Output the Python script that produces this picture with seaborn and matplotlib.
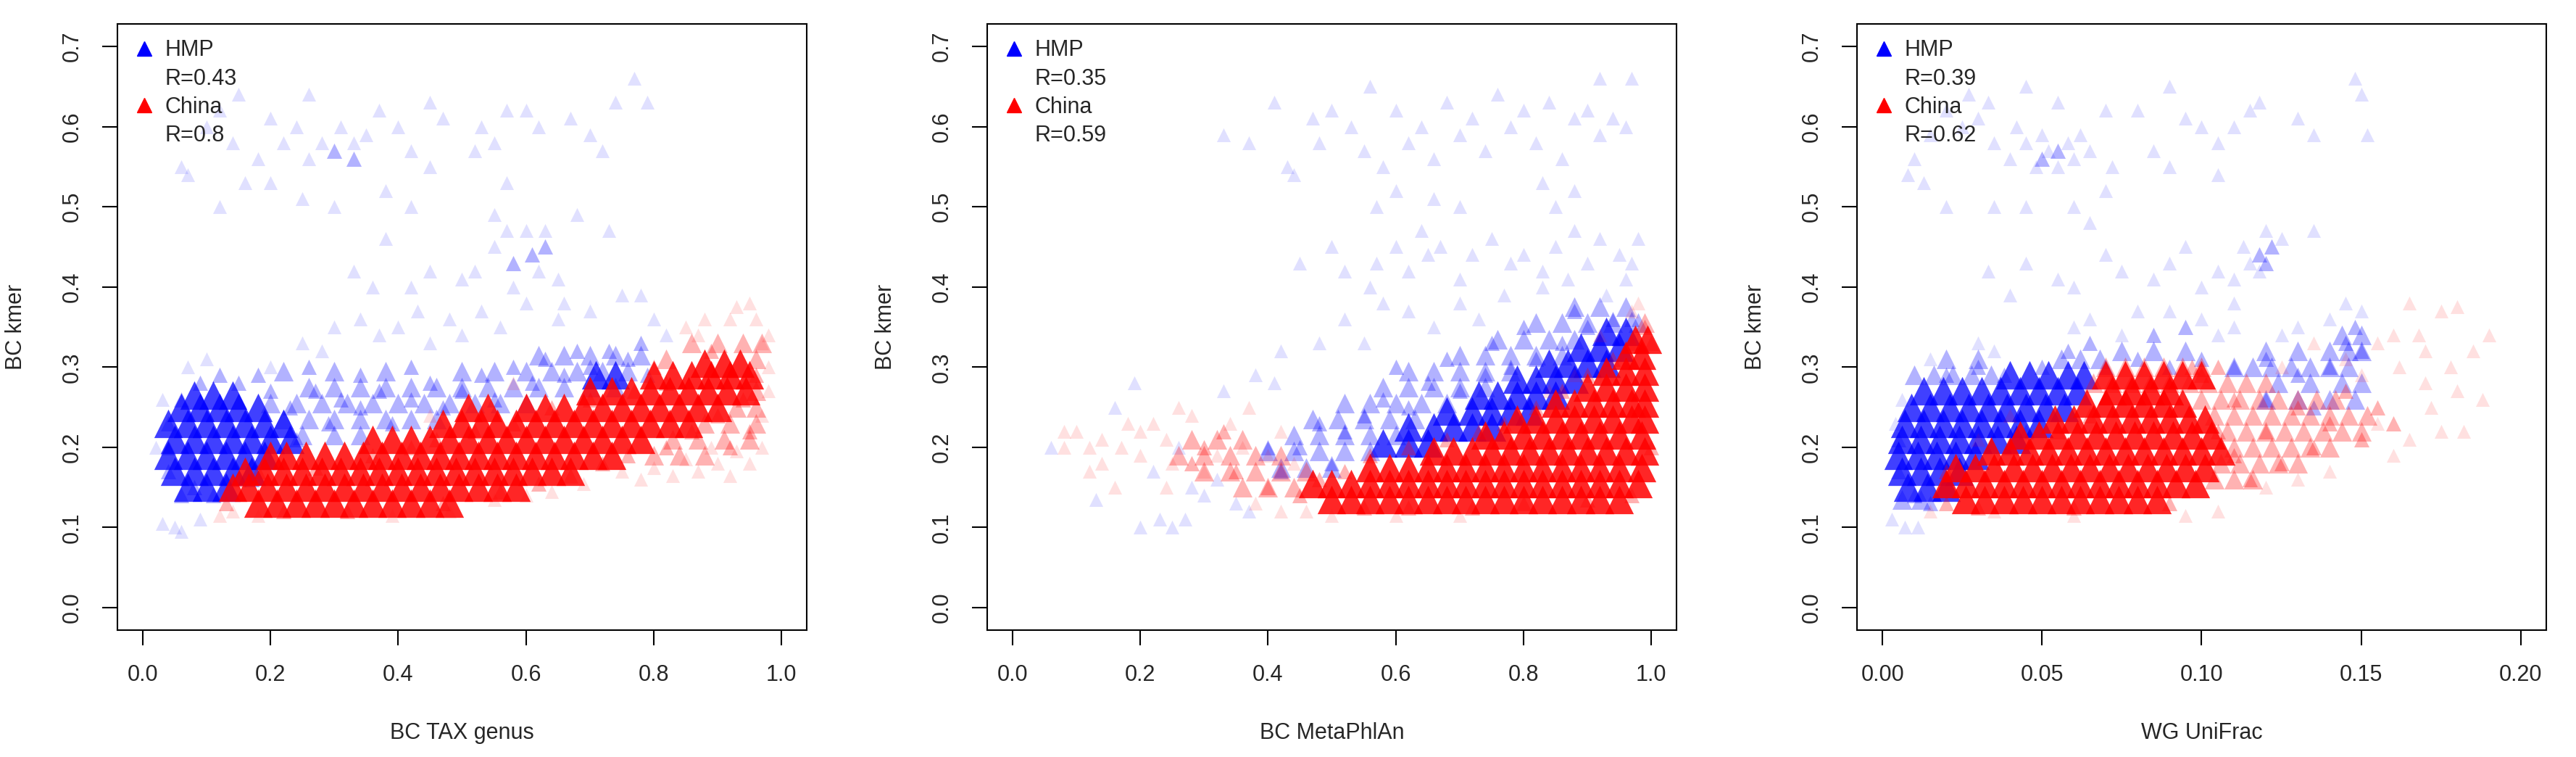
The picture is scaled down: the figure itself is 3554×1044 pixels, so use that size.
import matplotlib
matplotlib.use("Agg")
import matplotlib.pyplot as plt
from matplotlib.lines import Line2D
import seaborn as sns

# ---- data (x, BC kmer) ----
# dense parts are typed row by row: one y value, the x values seen along it
# fringe and outliers are single (x, y) points

# panel 1: BC TAX genus
hmp_tax_core_y = [0.150, 0.170, 0.190, 0.210, 0.230, 0.250, 0.265, 0.290]
hmp_tax_core_x = [[0.07, 0.10, 0.13],
                  [0.05, 0.08, 0.11, 0.14, 0.17],
                  [0.04, 0.07, 0.10, 0.13, 0.16, 0.19],
                  [0.05, 0.08, 0.11, 0.14, 0.17, 0.20, 0.23],
                  [0.04, 0.07, 0.10, 0.13, 0.16, 0.19, 0.22],
                  [0.06, 0.09, 0.12, 0.15, 0.18],
                  [0.08, 0.11, 0.14],
                  [0.71, 0.74]]
hmp_tax_halo_y = [0.215, 0.235, 0.255, 0.275, 0.295, 0.315]
hmp_tax_halo_x = [[0.25, 0.30, 0.34],
                  [0.22, 0.26, 0.30, 0.34, 0.38, 0.42, 0.46],
                  [0.20, 0.24, 0.28, 0.32, 0.36, 0.40, 0.44, 0.48, 0.52, 0.56, 0.60],
                  [0.26, 0.30, 0.34, 0.38, 0.42, 0.46, 0.50, 0.54, 0.58, 0.62, 0.66, 0.70, 0.74],
                  [0.22, 0.30, 0.38, 0.50, 0.55, 0.60, 0.64, 0.68, 0.72, 0.76],
                  [0.62, 0.66, 0.70, 0.74, 0.78]]
china_tax_core_y = [0.130, 0.150, 0.170, 0.190, 0.210, 0.230, 0.250, 0.270, 0.290, 0.305]
china_tax_core_x = [[0.18, 0.21, 0.24, 0.27, 0.30, 0.33, 0.36, 0.39, 0.42, 0.45, 0.48],
                    [0.14, 0.165, 0.195, 0.225, 0.255, 0.285, 0.315, 0.345, 0.375, 0.405, 0.435, 0.465,
                     0.495, 0.525, 0.555, 0.585],
                    [0.16, 0.19, 0.22, 0.25, 0.28, 0.31, 0.34, 0.37, 0.40, 0.43, 0.46, 0.49, 0.52, 0.55,
                     0.58, 0.61, 0.64, 0.67],
                    [0.20, 0.225, 0.255, 0.285, 0.315, 0.345, 0.375, 0.405, 0.435, 0.465, 0.495, 0.525,
                     0.555, 0.585, 0.615, 0.645, 0.675, 0.705, 0.735],
                    [0.36, 0.39, 0.42, 0.45, 0.48, 0.51, 0.54, 0.57, 0.60, 0.63, 0.66, 0.69, 0.72, 0.75, 0.78],
                    [0.47, 0.50, 0.53, 0.555, 0.585, 0.615, 0.645, 0.675, 0.705, 0.735, 0.765, 0.795, 0.825,
                     0.855],
                    [0.51, 0.54, 0.60, 0.63, 0.66, 0.69, 0.72, 0.75, 0.78, 0.81, 0.84, 0.87, 0.90],
                    [0.70, 0.735, 0.765, 0.795, 0.825, 0.855, 0.885, 0.915, 0.945],
                    [0.80, 0.83, 0.86, 0.89, 0.92, 0.95],
                    [0.88, 0.91, 0.935]]
china_tax_halo_y = [0.190, 0.210, 0.230, 0.250, 0.270, 0.310, 0.330]
china_tax_halo_x = [[0.80, 0.84, 0.88],
                    [0.83, 0.87, 0.91, 0.95],
                    [0.88, 0.92, 0.96],
                    [0.93, 0.96],
                    [0.96],
                    [0.82, 0.96],
                    [0.86, 0.90, 0.94, 0.97]]
hmp_tax_mid = [(0.04, 0.23), (0.04, 0.17), (0.06, 0.26), (0.06, 0.14), (0.09, 0.28), (0.11, 0.14),
               (0.15, 0.28), (0.17, 0.16), (0.20, 0.27), (0.23, 0.25), (0.24, 0.21), (0.27, 0.27),
               (0.29, 0.23), (0.31, 0.26), (0.34, 0.25), (0.37, 0.27), (0.39, 0.23), (0.42, 0.26),
               (0.45, 0.28), (0.47, 0.25), (0.50, 0.27), (0.53, 0.29), (0.55, 0.26), (0.58, 0.30),
               (0.61, 0.28), (0.63, 0.31), (0.66, 0.29), (0.68, 0.32), (0.70, 0.30), (0.73, 0.32),
               (0.76, 0.31), (0.78, 0.33), (0.79, 0.29), (0.30, 0.57), (0.33, 0.56), (0.61, 0.44),
               (0.58, 0.43), (0.63, 0.45), (0.04, 0.20), (0.08, 0.15), (0.12, 0.29), (0.18, 0.29),
               (0.26, 0.30), (0.34, 0.29), (0.42, 0.30)]
hmp_tax_sparse = [(0.03, 0.105), (0.05, 0.10), (0.06, 0.095), (0.09, 0.11), (0.02, 0.20), (0.03, 0.26),
                  (0.07, 0.30), (0.10, 0.31), (0.20, 0.30), (0.25, 0.33), (0.28, 0.32), (0.30, 0.35),
                  (0.34, 0.36), (0.37, 0.34), (0.40, 0.35), (0.43, 0.37), (0.45, 0.33), (0.48, 0.36),
                  (0.50, 0.34), (0.53, 0.37), (0.56, 0.35), (0.60, 0.38), (0.65, 0.36), (0.70, 0.37),
                  (0.75, 0.39), (0.78, 0.39), (0.80, 0.36), (0.82, 0.34), (0.33, 0.42), (0.36, 0.40),
                  (0.42, 0.40), (0.45, 0.42), (0.38, 0.46), (0.52, 0.42), (0.55, 0.45), (0.57, 0.47),
                  (0.60, 0.47), (0.62, 0.42), (0.63, 0.47), (0.65, 0.41), (0.50, 0.41), (0.55, 0.49),
                  (0.58, 0.40), (0.68, 0.49), (0.73, 0.47), (0.66, 0.38), (0.06, 0.55), (0.07, 0.54),
                  (0.10, 0.60), (0.12, 0.62), (0.14, 0.58), (0.15, 0.64), (0.18, 0.56), (0.20, 0.61),
                  (0.22, 0.58), (0.24, 0.60), (0.26, 0.56), (0.28, 0.58), (0.31, 0.60), (0.33, 0.58),
                  (0.35, 0.59), (0.37, 0.62), (0.26, 0.64), (0.20, 0.53), (0.25, 0.51), (0.30, 0.50),
                  (0.12, 0.50), (0.16, 0.53), (0.40, 0.60), (0.42, 0.57), (0.45, 0.63), (0.47, 0.61),
                  (0.53, 0.60), (0.57, 0.62), (0.60, 0.62), (0.62, 0.60), (0.67, 0.61), (0.70, 0.59),
                  (0.72, 0.57), (0.74, 0.63), (0.77, 0.66), (0.79, 0.63), (0.52, 0.57), (0.55, 0.58),
                  (0.57, 0.53), (0.45, 0.55), (0.38, 0.52), (0.42, 0.50)]
china_tax_mid = [(0.13, 0.13), (0.15, 0.16), (0.18, 0.17), (0.22, 0.12), (0.27, 0.175), (0.32, 0.12),
                 (0.36, 0.19), (0.42, 0.20), (0.47, 0.13), (0.46, 0.21), (0.52, 0.22), (0.56, 0.145),
                 (0.58, 0.23), (0.62, 0.155), (0.64, 0.25), (0.67, 0.165), (0.70, 0.26), (0.72, 0.18),
                 (0.76, 0.19), (0.77, 0.27), (0.82, 0.20), (0.82, 0.28), (0.86, 0.22), (0.90, 0.24),
                 (0.94, 0.26), (0.96, 0.29), (0.95, 0.22), (0.92, 0.20), (0.89, 0.32), (0.80, 0.30)]
china_tax_sparse = [(0.12, 0.115), (0.14, 0.12), (0.18, 0.115), (0.39, 0.115), (0.48, 0.12), (0.55, 0.135),
                    (0.60, 0.14), (0.64, 0.145), (0.69, 0.155), (0.75, 0.17), (0.80, 0.175), (0.85, 0.185),
                    (0.87, 0.17), (0.90, 0.18), (0.93, 0.195), (0.97, 0.20), (0.97, 0.24), (0.98, 0.27),
                    (0.98, 0.30), (0.97, 0.33), (0.98, 0.34), (0.92, 0.36), (0.95, 0.38), (0.93, 0.375),
                    (0.87, 0.34), (0.85, 0.35), (0.78, 0.16), (0.83, 0.165), (0.92, 0.165), (0.95, 0.18),
                    (0.58, 0.28), (0.45, 0.24), (0.88, 0.36), (0.96, 0.36), (0.89, 0.20)]

# panel 2: BC MetaPhlAn
hmp_mpa_core_y = [0.205, 0.225, 0.245, 0.265, 0.285, 0.305, 0.325, 0.345]
hmp_mpa_core_x = [[0.58, 0.62, 0.65],
                  [0.62, 0.66, 0.69, 0.72, 0.75],
                  [0.68, 0.72, 0.75, 0.78, 0.81],
                  [0.73, 0.76, 0.79, 0.82, 0.85],
                  [0.79, 0.82, 0.85, 0.88],
                  [0.84, 0.87, 0.90, 0.93],
                  [0.89, 0.92, 0.95],
                  [0.93, 0.96]]
hmp_mpa_halo_y = [0.175, 0.195, 0.215, 0.235, 0.255, 0.275, 0.295, 0.315, 0.335, 0.355, 0.375]
hmp_mpa_halo_x = [[0.42, 0.46, 0.50],
                  [0.40, 0.44, 0.48, 0.52, 0.56],
                  [0.44, 0.48, 0.52, 0.56, 0.60],
                  [0.47, 0.51, 0.55, 0.59, 0.63],
                  [0.52, 0.56, 0.60, 0.64, 0.68],
                  [0.58, 0.62, 0.66, 0.70, 0.74],
                  [0.62, 0.66, 0.70, 0.74, 0.78],
                  [0.70, 0.74, 0.78, 0.82, 0.86],
                  [0.76, 0.80, 0.84, 0.88],
                  [0.82, 0.86, 0.90, 0.94, 0.98],
                  [0.88, 0.92, 0.96]]
china_mpa_core_y = [0.135, 0.155, 0.175, 0.195, 0.215, 0.235, 0.255, 0.275, 0.295, 0.315, 0.335]
china_mpa_core_x = [[0.50, 0.53, 0.56, 0.59, 0.62, 0.65, 0.68, 0.71, 0.74, 0.77, 0.80, 0.83, 0.86, 0.89,
                     0.92, 0.95],
                    [0.47, 0.50, 0.53, 0.56, 0.59, 0.62, 0.65, 0.68, 0.71, 0.74, 0.77, 0.80, 0.83, 0.86,
                     0.89, 0.92, 0.95, 0.98],
                    [0.56, 0.59, 0.62, 0.65, 0.68, 0.71, 0.74, 0.77, 0.80, 0.83, 0.86, 0.89, 0.92, 0.95,
                     0.985],
                    [0.66, 0.69, 0.72, 0.75, 0.78, 0.81, 0.84, 0.87, 0.90, 0.93, 0.96, 0.99],
                    [0.74, 0.77, 0.80, 0.83, 0.86, 0.89, 0.92, 0.95, 0.985],
                    [0.79, 0.82, 0.85, 0.88, 0.91, 0.94, 0.97, 0.99],
                    [0.85, 0.88, 0.91, 0.94, 0.97, 0.99],
                    [0.90, 0.93, 0.96, 0.99],
                    [0.93, 0.96, 0.99],
                    [0.96, 0.985],
                    [0.975, 0.995]]
china_mpa_halo_y = [0.150, 0.170, 0.190, 0.210, 0.355]
china_mpa_halo_x = [[0.36, 0.40, 0.44],
                    [0.30, 0.34, 0.38, 0.42, 0.46],
                    [0.26, 0.30, 0.34, 0.38, 0.42],
                    [0.28, 0.32, 0.36],
                    [0.99]]
hmp_mpa_mid = [(0.45, 0.20), (0.48, 0.23), (0.50, 0.18), (0.52, 0.22), (0.55, 0.24), (0.58, 0.26),
               (0.62, 0.25), (0.65, 0.28), (0.70, 0.27), (0.74, 0.29), (0.78, 0.30), (0.82, 0.31),
               (0.86, 0.33), (0.90, 0.35), (0.94, 0.36), (0.97, 0.36), (0.40, 0.20), (0.42, 0.17),
               (0.60, 0.30), (0.68, 0.31), (0.75, 0.33), (0.80, 0.35), (0.88, 0.37)]
hmp_mpa_sparse = [(0.06, 0.20), (0.13, 0.135), (0.16, 0.25), (0.19, 0.28), (0.20, 0.10), (0.23, 0.11),
                  (0.25, 0.10), (0.27, 0.11), (0.22, 0.17), (0.26, 0.20), (0.28, 0.15), (0.30, 0.14),
                  (0.32, 0.16), (0.35, 0.13), (0.37, 0.12), (0.33, 0.27), (0.38, 0.29), (0.41, 0.28),
                  (0.42, 0.32), (0.48, 0.33), (0.52, 0.36), (0.55, 0.33), (0.58, 0.38), (0.62, 0.37),
                  (0.66, 0.35), (0.70, 0.38), (0.73, 0.36), (0.77, 0.39), (0.83, 0.40), (0.87, 0.41),
                  (0.93, 0.39), (0.96, 0.41), (0.45, 0.43), (0.50, 0.45), (0.52, 0.42), (0.57, 0.43),
                  (0.60, 0.45), (0.62, 0.42), (0.65, 0.44), (0.67, 0.45), (0.70, 0.41), (0.72, 0.44),
                  (0.75, 0.46), (0.78, 0.43), (0.80, 0.44), (0.83, 0.42), (0.85, 0.45), (0.88, 0.47),
                  (0.90, 0.43), (0.92, 0.46), (0.95, 0.44), (0.98, 0.46), (0.97, 0.43), (0.64, 0.47),
                  (0.56, 0.40), (0.33, 0.59), (0.37, 0.58), (0.41, 0.63), (0.43, 0.55), (0.44, 0.54),
                  (0.47, 0.61), (0.48, 0.58), (0.50, 0.62), (0.53, 0.60), (0.55, 0.57), (0.56, 0.65),
                  (0.58, 0.55), (0.60, 0.62), (0.62, 0.58), (0.64, 0.60), (0.66, 0.56), (0.68, 0.63),
                  (0.70, 0.59), (0.72, 0.61), (0.74, 0.57), (0.76, 0.64), (0.78, 0.60), (0.80, 0.62),
                  (0.82, 0.58), (0.84, 0.63), (0.86, 0.56), (0.88, 0.61), (0.90, 0.62), (0.92, 0.59),
                  (0.94, 0.61), (0.96, 0.60), (0.92, 0.66), (0.97, 0.66), (0.60, 0.52), (0.57, 0.50),
                  (0.66, 0.51), (0.70, 0.50), (0.83, 0.53), (0.85, 0.50), (0.88, 0.52)]
china_mpa_mid = [(0.45, 0.14), (0.48, 0.16), (0.52, 0.17), (0.56, 0.19), (0.62, 0.20), (0.68, 0.21),
                 (0.73, 0.22), (0.77, 0.23), (0.82, 0.25), (0.86, 0.27), (0.90, 0.29), (0.94, 0.31),
                 (0.97, 0.33), (0.99, 0.35), (1.00, 0.33), (1.00, 0.20), (0.62, 0.125), (0.72, 0.125),
                 (0.80, 0.13), (0.90, 0.135), (0.97, 0.14), (0.55, 0.125), (0.40, 0.15), (0.35, 0.17),
                 (0.30, 0.20), (0.28, 0.18), (0.33, 0.22)]
china_mpa_sparse = [(0.08, 0.22), (0.08, 0.20), (0.10, 0.22), (0.12, 0.17), (0.12, 0.20), (0.14, 0.18),
                    (0.14, 0.21), (0.17, 0.20), (0.18, 0.23), (0.20, 0.19), (0.20, 0.22), (0.22, 0.23),
                    (0.24, 0.21), (0.25, 0.18), (0.26, 0.25), (0.28, 0.24), (0.30, 0.17), (0.32, 0.19),
                    (0.34, 0.23), (0.36, 0.20), (0.37, 0.25), (0.40, 0.19), (0.42, 0.22), (0.44, 0.18),
                    (0.38, 0.13), (0.42, 0.12), (0.46, 0.12), (0.50, 0.115), (0.60, 0.115), (0.70, 0.115),
                    (0.98, 0.38), (0.97, 0.37), (0.92, 0.34), (0.88, 0.29), (0.84, 0.27), (0.24, 0.15),
                    (0.16, 0.15)]

# panel 3: WG UniFrac
hmp_wgu_core_y = [0.150, 0.170, 0.190, 0.210, 0.230, 0.250, 0.270, 0.290]
hmp_wgu_core_x = [[0.008, 0.014, 0.020],
                  [0.006, 0.012, 0.018, 0.024],
                  [0.005, 0.011, 0.017, 0.023, 0.029],
                  [0.006, 0.012, 0.018, 0.024, 0.030, 0.036, 0.042],
                  [0.007, 0.013, 0.019, 0.025, 0.031, 0.037, 0.043, 0.049],
                  [0.009, 0.015, 0.021, 0.027, 0.033, 0.039, 0.045, 0.051, 0.057],
                  [0.013, 0.019, 0.025, 0.031, 0.037, 0.043, 0.049, 0.055, 0.061],
                  [0.040, 0.046, 0.052, 0.058, 0.063]]
hmp_wgu_halo_y = [0.135, 0.260, 0.280, 0.290, 0.300, 0.310, 0.320, 0.340]
hmp_wgu_halo_x = [[0.006, 0.012],
                  [0.120, 0.130, 0.140, 0.148],
                  [0.124, 0.134, 0.144, 0.150],
                  [0.010, 0.016, 0.022, 0.028, 0.034],
                  [0.110, 0.116, 0.122, 0.128, 0.134, 0.140, 0.146],
                  [0.020, 0.030, 0.056, 0.062, 0.068],
                  [0.075, 0.085, 0.095, 0.120, 0.130, 0.140, 0.146, 0.150],
                  [0.144, 0.150]]
china_wgu_core_y = [0.135, 0.155, 0.175, 0.195, 0.215, 0.235, 0.255, 0.270, 0.290]
china_wgu_core_x = [[0.026, 0.032, 0.038, 0.044, 0.050, 0.056, 0.062, 0.068, 0.074, 0.080, 0.086],
                    [0.020, 0.026, 0.032, 0.038, 0.044, 0.050, 0.056, 0.062, 0.068, 0.074, 0.080, 0.086,
                     0.092, 0.098],
                    [0.023, 0.029, 0.035, 0.041, 0.047, 0.053, 0.059, 0.065, 0.071, 0.077, 0.083, 0.089,
                     0.095, 0.101],
                    [0.034, 0.040, 0.046, 0.052, 0.058, 0.064, 0.070, 0.076, 0.082, 0.088, 0.094, 0.100,
                     0.106],
                    [0.043, 0.049, 0.055, 0.061, 0.067, 0.073, 0.079, 0.085, 0.091, 0.097, 0.103],
                    [0.054, 0.060, 0.066, 0.072, 0.078, 0.084, 0.090, 0.096, 0.101],
                    [0.064, 0.070, 0.076, 0.082, 0.088, 0.094],
                    [0.072, 0.078, 0.084, 0.090],
                    [0.070, 0.076, 0.082, 0.088, 0.094, 0.100]]
china_wgu_halo_y = [0.160, 0.180, 0.200, 0.220, 0.240, 0.260, 0.280, 0.300]
china_wgu_halo_x = [[0.104, 0.110, 0.116],
                    [0.106, 0.112, 0.118, 0.124, 0.130],
                    [0.110, 0.116, 0.122, 0.128, 0.134, 0.140],
                    [0.108, 0.114, 0.120, 0.126, 0.132, 0.138, 0.144, 0.150],
                    [0.104, 0.110, 0.116, 0.122, 0.128, 0.134, 0.140, 0.146, 0.152],
                    [0.100, 0.106, 0.112, 0.118, 0.124, 0.130, 0.136, 0.142],
                    [0.066, 0.072, 0.078, 0.084, 0.090, 0.096, 0.102, 0.108, 0.114, 0.120],
                    [0.070, 0.076, 0.082, 0.088, 0.094, 0.100]]
hmp_wgu_mid = [(0.005, 0.21), (0.005, 0.17), (0.010, 0.14), (0.015, 0.13), (0.020, 0.29), (0.030, 0.30),
               (0.038, 0.29), (0.050, 0.30), (0.058, 0.32), (0.065, 0.33), (0.045, 0.22), (0.070, 0.30),
               (0.080, 0.31), (0.090, 0.30), (0.100, 0.31), (0.110, 0.30), (0.120, 0.31), (0.130, 0.29),
               (0.140, 0.30), (0.145, 0.33), (0.150, 0.32), (0.148, 0.35), (0.120, 0.43), (0.118, 0.44),
               (0.122, 0.45), (0.055, 0.57), (0.050, 0.56), (0.085, 0.34), (0.095, 0.35), (0.120, 0.26),
               (0.135, 0.25)]
hmp_wgu_sparse = [(0.003, 0.11), (0.007, 0.10), (0.011, 0.10), (0.004, 0.23), (0.006, 0.26), (0.015, 0.31),
                  (0.030, 0.33), (0.035, 0.32), (0.060, 0.35), (0.065, 0.36), (0.075, 0.34), (0.080, 0.37),
                  (0.090, 0.37), (0.100, 0.36), (0.105, 0.34), (0.110, 0.35), (0.125, 0.34), (0.130, 0.35),
                  (0.140, 0.36), (0.145, 0.38), (0.150, 0.37), (0.110, 0.38), (0.100, 0.40), (0.105, 0.42),
                  (0.110, 0.41), (0.113, 0.45), (0.118, 0.42), (0.120, 0.47), (0.125, 0.46), (0.115, 0.43),
                  (0.095, 0.45), (0.090, 0.43), (0.085, 0.41), (0.075, 0.42), (0.070, 0.44), (0.135, 0.47),
                  (0.060, 0.40), (0.055, 0.41), (0.045, 0.43), (0.040, 0.39), (0.033, 0.42), (0.008, 0.54),
                  (0.010, 0.56), (0.015, 0.59), (0.020, 0.62), (0.025, 0.60), (0.027, 0.64), (0.030, 0.61),
                  (0.033, 0.63), (0.035, 0.58), (0.040, 0.56), (0.042, 0.60), (0.045, 0.58), (0.048, 0.55),
                  (0.050, 0.59), (0.052, 0.57), (0.055, 0.55), (0.058, 0.58), (0.060, 0.56), (0.062, 0.59),
                  (0.065, 0.57), (0.045, 0.65), (0.055, 0.63), (0.070, 0.62), (0.072, 0.55), (0.070, 0.52),
                  (0.065, 0.48), (0.060, 0.50), (0.045, 0.50), (0.035, 0.50), (0.020, 0.50), (0.013, 0.53),
                  (0.080, 0.62), (0.090, 0.65), (0.095, 0.61), (0.100, 0.60), (0.105, 0.58), (0.110, 0.60),
                  (0.115, 0.62), (0.090, 0.55), (0.085, 0.57), (0.105, 0.54), (0.130, 0.61), (0.135, 0.59),
                  (0.148, 0.66), (0.150, 0.64), (0.152, 0.59), (0.118, 0.63)]
china_wgu_mid = [(0.020, 0.13), (0.020, 0.17), (0.040, 0.20), (0.055, 0.22), (0.065, 0.24), (0.100, 0.29),
                 (0.105, 0.22), (0.110, 0.19), (0.110, 0.26), (0.115, 0.16), (0.120, 0.22), (0.125, 0.18),
                 (0.130, 0.25), (0.135, 0.20), (0.140, 0.23), (0.145, 0.27), (0.150, 0.21), (0.155, 0.25),
                 (0.160, 0.23), (0.097, 0.30), (0.105, 0.30), (0.030, 0.125), (0.060, 0.125), (0.090, 0.13)]
china_wgu_sparse = [(0.015, 0.12), (0.035, 0.12), (0.060, 0.115), (0.095, 0.115), (0.105, 0.12), (0.120, 0.15),
                    (0.130, 0.16), (0.140, 0.17), (0.145, 0.31), (0.150, 0.29), (0.155, 0.33), (0.160, 0.34),
                    (0.162, 0.30), (0.165, 0.38), (0.168, 0.34), (0.170, 0.28), (0.172, 0.25), (0.175, 0.37),
                    (0.178, 0.30), (0.180, 0.375), (0.180, 0.27), (0.182, 0.22), (0.185, 0.32), (0.188, 0.26),
                    (0.190, 0.34), (0.175, 0.22), (0.165, 0.21), (0.160, 0.19), (0.155, 0.23), (0.170, 0.32),
                    (0.125, 0.30), (0.135, 0.33), (0.040, 0.24), (0.030, 0.21)]

x_labels = ["BC TAX genus", "BC MetaPhlAn", "WG UniFrac"]
hmp_r = ["R=0.43", "R=0.35", "R=0.39"]
china_r = ["R=0.8", "R=0.59", "R=0.62"]
x_ticks = [[0.0, 0.2, 0.4, 0.6, 0.8, 1.0], [0.0, 0.2, 0.4, 0.6, 0.8, 1.0], [0.00, 0.05, 0.10, 0.15, 0.20]]
x_tick_labels = [["0.0", "0.2", "0.4", "0.6", "0.8", "1.0"], ["0.0", "0.2", "0.4", "0.6", "0.8", "1.0"],
                 ["0.00", "0.05", "0.10", "0.15", "0.20"]]
x_limits = [(-0.04, 1.04), (-0.04, 1.04), (-0.008, 0.208)]
y_ticks = [0.0, 0.1, 0.2, 0.3, 0.4, 0.5, 0.6, 0.7]
y_tick_labels = ["0.0", "0.1", "0.2", "0.3", "0.4", "0.5", "0.6", "0.7"]

panels = [
    dict(hmp_core=(hmp_tax_core_y, hmp_tax_core_x), hmp_halo=(hmp_tax_halo_y, hmp_tax_halo_x),
         china_core=(china_tax_core_y, china_tax_core_x), china_halo=(china_tax_halo_y, china_tax_halo_x),
         hmp_mid=hmp_tax_mid, hmp_sparse=hmp_tax_sparse,
         china_mid=china_tax_mid, china_sparse=china_tax_sparse),
    dict(hmp_core=(hmp_mpa_core_y, hmp_mpa_core_x), hmp_halo=(hmp_mpa_halo_y, hmp_mpa_halo_x),
         china_core=(china_mpa_core_y, china_mpa_core_x), china_halo=(china_mpa_halo_y, china_mpa_halo_x),
         hmp_mid=hmp_mpa_mid, hmp_sparse=hmp_mpa_sparse,
         china_mid=china_mpa_mid, china_sparse=china_mpa_sparse),
    dict(hmp_core=(hmp_wgu_core_y, hmp_wgu_core_x), hmp_halo=(hmp_wgu_halo_y, hmp_wgu_halo_x),
         china_core=(china_wgu_core_y, china_wgu_core_x), china_halo=(china_wgu_halo_y, china_wgu_halo_x),
         hmp_mid=hmp_wgu_mid, hmp_sparse=hmp_wgu_sparse,
         china_mid=china_wgu_mid, china_sparse=china_wgu_sparse),
]

sns.set_style("white")
plt.rcParams["font.family"] = ["Liberation Sans", "DejaVu Sans"]
plt.rcParams["font.size"] = 22

BLUE = "#0000FF"
RED = "#FF0000"


def draw_points(ax, pts, color, alpha, size):
    xs = [p[0] for p in pts]
    ys = [p[1] for p in pts]
    sns.scatterplot(x=xs, y=ys, ax=ax, marker="^", color=color, alpha=alpha,
                    s=size, linewidth=0, legend=False)


def draw_rows(ax, rows, color, alpha, size):
    row_y, row_x = rows
    pts = [(x, y) for y, xs in zip(row_y, row_x) for x in xs]
    draw_points(ax, pts, color, alpha, size)


fig = plt.figure(figsize=(35.55, 10.44), dpi=100)
lefts = [162 / 3555, 1362 / 3555, 2562 / 3555]

for i, p in enumerate(panels):
    ax = fig.add_axes([lefts[i], 1 - 869 / 1044, 951 / 3555, 836 / 1044])
    # HMP first, China on top
    draw_points(ax, p["hmp_sparse"], BLUE, 0.12, 190)
    draw_rows(ax, p["hmp_halo"], BLUE, 0.3, 380)
    draw_points(ax, p["hmp_mid"], BLUE, 0.3, 230)
    draw_rows(ax, p["hmp_core"], BLUE, 0.75, 800)
    draw_points(ax, p["china_sparse"], RED, 0.12, 190)
    draw_rows(ax, p["china_halo"], RED, 0.3, 380)
    draw_points(ax, p["china_mid"], RED, 0.3, 230)
    draw_rows(ax, p["china_core"], RED, 0.85, 800)

    ax.set_xlim(*x_limits[i])
    ax.set_ylim(-0.028, 0.728)
    ax.set_xticks(x_ticks[i])
    ax.set_xticklabels(x_tick_labels[i])
    ax.set_yticks(y_ticks)
    ax.set_yticklabels(y_tick_labels, rotation=90, va="center")
    ax.tick_params(bottom=True, left=True, direction="out", length=15, width=1.5,
                   labelsize=22, pad=19, color="black")
    for sp in ax.spines.values():
        sp.set_linewidth(1.5)
        sp.set_color("black")

    ax.set_xlabel(x_labels[i], fontsize=22)
    ax.set_ylabel("BC kmer", fontsize=22)
    ax.xaxis.set_label_coords(0.5, -0.152)
    ax.yaxis.set_label_coords(-0.131, 0.5)

    handles = [
        Line2D([], [], marker="^", color=BLUE, linestyle="", markersize=14),
        Line2D([], [], marker="", linestyle=""),
        Line2D([], [], marker="^", color=RED, linestyle="", markersize=14),
        Line2D([], [], marker="", linestyle=""),
    ]
    ax.legend(handles, ["HMP", hmp_r[i], "China", china_r[i]], loc="upper left", frameon=False,
              fontsize=22, handlelength=1.0, handletextpad=0.45, borderaxespad=0.2,
              borderpad=0.5, labelspacing=0.3)

fig.savefig("out.png", dpi=100)
plt.close(fig)
